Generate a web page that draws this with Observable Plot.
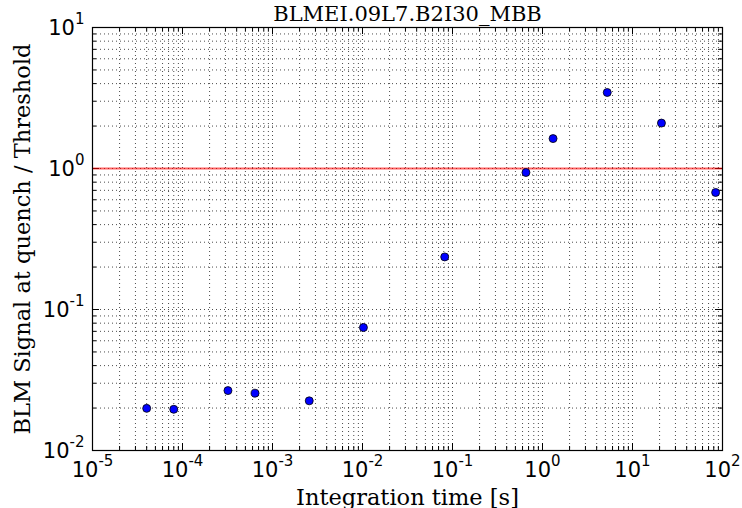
<!DOCTYPE html>
<html><head><meta charset="utf-8">
<script src="https://cdn.jsdelivr.net/npm/d3@7"></script>
<script src="https://cdn.jsdelivr.net/npm/@observablehq/plot@0.6"></script>
<style>body{margin:0;background:#fff}#chart{width:742px;height:508px}</style>
</head><body><div id="chart"></div>
<script>
const title = "BLMEI.09L7.B2I30_MBB";
const xLabel = "Integration time [s]";
const yLabel = "BLM Signal at quench / Threshold";
const integrationTimes = [4e-5, 8e-5, 3.2e-4, 6.4e-4, 2.56e-3, 1.024e-2, 8.192e-2, 0.655, 1.31, 5.24, 20.97, 83.89];
const signalRatio = [0.0199, 0.0196, 0.0266, 0.0255, 0.0225, 0.0745, 0.236, 0.937, 1.63, 3.46, 2.10, 0.676];
const thresholdLevel = [1];
const xMajorTicks = [1e-5, 1e-4, 1e-3, 1e-2, 1e-1, 1e0, 1e1, 1e2];
const xTickExponents = ["-5", "-4", "-3", "-2", "-1", "0", "1", "2"];
const yMajorTicks = [1e-2, 1e-1, 1e0, 1e1];
const yTickExponents = ["-2", "-1", "0", "1"];
const minorMultipliers = [2, 3, 4, 5, 6, 7, 8, 9];

const xMinorTicks = xMajorTicks.slice(0, -1).flatMap(m => minorMultipliers.map(k => k * m));
const yMinorTicks = yMajorTicks.slice(0, -1).flatMap(m => minorMultipliers.map(k => k * m));
const points = integrationTimes.map((t, i) => ({t, r: signalRatio[i]}));
const xTickData = xMajorTicks.map((v, i) => ({v, e: xTickExponents[i]}));
const yTickData = yMajorTicks.map((v, i) => ({v, e: yTickExponents[i]}));

const W = 742, H = 508, mL = 92, mR = 20, mT = 27, mB = 58;
const plotH = H - mT - mB, plotW = W - mL - mR;
const gridStyle = {stroke: "black", strokeWidth: 1, strokeDasharray: "1,3", strokeOpacity: 0.7};
const majorLen = 7, minorLen = 4;

const chart = Plot.plot({
  width: W, height: H,
  marginLeft: mL, marginRight: mR, marginTop: mT, marginBottom: mB,
  style: {background: "white", fontFamily: "DejaVu Sans"},
  x: {type: "log", domain: [1e-5, 1e2], axis: null},
  y: {type: "log", domain: [1e-2, 1e1], axis: null},
  marks: [
    Plot.ruleX(xMinorTicks, {x: d => d, ...gridStyle}),
    Plot.ruleX(xMajorTicks, {x: d => d, ...gridStyle}),
    Plot.ruleY(yMinorTicks, {y: d => d, ...gridStyle}),
    Plot.ruleY(yMajorTicks, {y: d => d, ...gridStyle}),
    // inward ticks on all four sides
    Plot.tickX(xMajorTicks, {x: d => d, insetTop: plotH - majorLen, stroke: "black"}),
    Plot.tickX(xMajorTicks, {x: d => d, insetBottom: plotH - majorLen, stroke: "black"}),
    Plot.tickX(xMinorTicks, {x: d => d, insetTop: plotH - minorLen, stroke: "black"}),
    Plot.tickX(xMinorTicks, {x: d => d, insetBottom: plotH - minorLen, stroke: "black"}),
    Plot.tickY(yMajorTicks, {y: d => d, insetRight: plotW - majorLen, stroke: "black"}),
    Plot.tickY(yMajorTicks, {y: d => d, insetLeft: plotW - majorLen, stroke: "black"}),
    Plot.tickY(yMinorTicks, {y: d => d, insetRight: plotW - minorLen, stroke: "black"}),
    Plot.tickY(yMinorTicks, {y: d => d, insetLeft: plotW - minorLen, stroke: "black"}),
    Plot.ruleY(thresholdLevel, {y: d => d, stroke: "red", strokeOpacity: 0.6, strokeWidth: 2}),
    Plot.frame({stroke: "black", strokeWidth: 1.2}),
    Plot.dot(points, {x: "t", y: "r", r: 4, fill: "#0000ff", stroke: "black", strokeWidth: 0.8}),
    Plot.text(xTickData, {x: "v", text: d => "10^" + d.e, frameAnchor: "bottom", textAnchor: "middle", lineAnchor: "bottom", dy: 26, fontSize: 21, fontFamily: "DejaVu Sans", fill: "black"}),
    Plot.text(yTickData, {y: "v", text: d => "10^" + d.e, frameAnchor: "left", textAnchor: "end", lineAnchor: "bottom", dx: -8, dy: 7.5, fontSize: 21, fontFamily: "DejaVu Sans", fill: "black"}),
    Plot.text([title], {text: d => d, frameAnchor: "top", textAnchor: "middle", lineAnchor: "bottom", dy: -7, fontSize: 21, fontFamily: "DejaVu Serif", fill: "black"}),
    Plot.text([xLabel], {text: d => d, frameAnchor: "bottom", textAnchor: "middle", lineAnchor: "bottom", dy: 54, fontSize: 22.5, fontFamily: "DejaVu Serif", fill: "black"}),
    Plot.text([yLabel], {text: d => d, frameAnchor: "left", textAnchor: "middle", rotate: -90, lineAnchor: "bottom", dx: -63, fontSize: 22.5, fontFamily: "DejaVu Serif", fill: "black"})
  ]
});

// render exponent as superscript
d3.select(chart).selectAll("text").each(function () {
  const t = this.textContent;
  if (t.startsWith("10^")) {
    const exp = t.slice(3);
    this.textContent = "";
    const s = d3.select(this);
    s.append("tspan").text("10");
    s.append("tspan").attr("dy", -11).attr("font-size", 15).text(exp);
  }
});
document.getElementById("chart").appendChild(chart);
</script>
</body></html>
